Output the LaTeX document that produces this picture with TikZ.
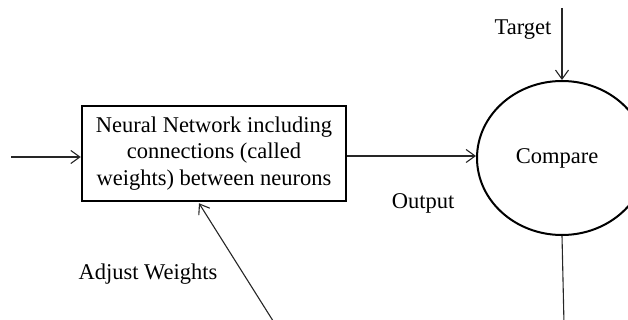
\documentclass[tikz,border=0pt]{standalone}
\usepackage{fontspec}
\setmainfont{Liberation Serif}
\usetikzlibrary{shapes.geometric,arrows.meta}
\begin{document}
\begin{tikzpicture}[x=1pt,y=-1pt,
  lbl/.style={font=\fontsize{22.5}{27}\selectfont, inner sep=0pt},
  conn/.style={line width=1.1pt, draw=black!85, -{Straight Barb[length=9pt,width=13pt,line width=1.1pt]}},
  plain/.style={line width=1.1pt, draw=black!85},
  nnbox/.style={draw, line width=2.5pt, rectangle, minimum width=264pt, minimum height=95pt, align=center, font=\fontsize{22.5}{26.5}\selectfont, inner sep=0pt},
  cmpell/.style={draw, line width=2pt, ellipse, minimum width=170pt, minimum height=154pt, font=\fontsize{22.5}{27}\selectfont, inner sep=0pt}]
\useasboundingbox (0,0) rectangle (628,320);
\clip (0,0) rectangle (628,320);
\node[nnbox] (box) at (214,153.5) {Neural Network including\\connections (called\\weights) between neurons};
\node[cmpell] (cmp) at (562,158) {\hspace*{-10pt}Compare};
\node[lbl] (tgt) at (523,30) {Target};
\node[lbl] (outl) at (423,203) {Output};
\node[lbl] (adjl) at (148,274) {Adjust Weights};
\coordinate (in) at (11,157);
\coordinate (top) at (562,8);
\coordinate (bot) at (564,324);
\coordinate (adj) at (275,324);
\draw[conn] (in) -- (in -| box.west);
\draw[conn] (box.east |- 0,156) -- (cmp.west |- 0,156);
\draw[conn] (top) -- (cmp.north);
\draw[plain] (cmp.south) -- (bot);
\draw[conn] (adj) -- ([xshift=-15pt,yshift=-1pt]box.south);
\end{tikzpicture}
\end{document}
